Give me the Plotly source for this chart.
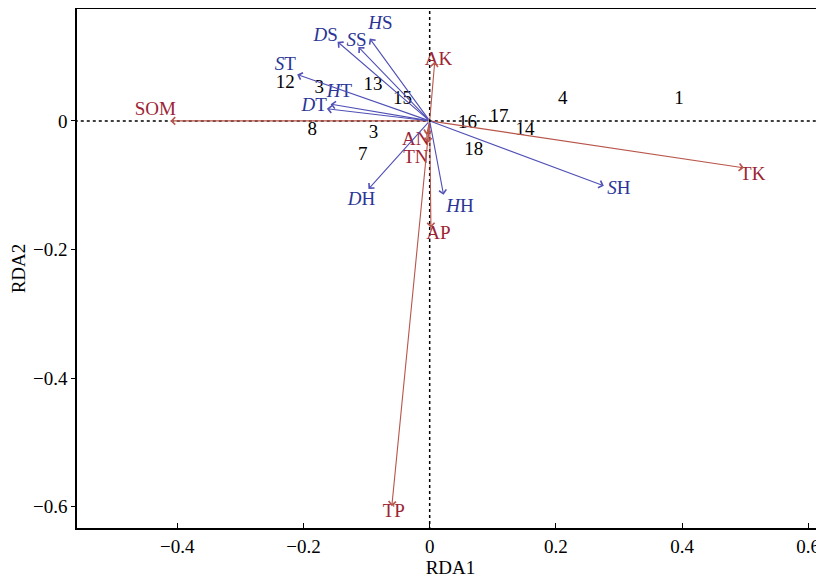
import plotly.graph_objects as go

# ---- data ----
# plant (blue) vectors
plant_names = ["<i>H</i>S", "<i>S</i>S", "<i>D</i>S", "<i>S</i>T", "<i>H</i>T", "<i>D</i>T", "<i>D</i>H", "<i>H</i>H", "<i>S</i>H"]
plant_rda1 = [-0.095, -0.113, -0.146, -0.210, -0.157, -0.163, -0.097, 0.022, 0.276]
plant_rda2 = [0.128, 0.115, 0.123, 0.072, 0.026, 0.019, -0.106, -0.115, -0.101]
plant_lab1 = [-0.078, -0.116, -0.165, -0.229, -0.143, -0.183, -0.108, 0.048, 0.300]
plant_lab2 = [0.151, 0.124, 0.131, 0.087, 0.045, 0.023, -0.123, -0.134, -0.107]

# soil (red) vectors
soil_names = ["SOM", "AK", "TK", "AP", "TP", "AN", "TN"]
soil_rda1 = [-0.411, 0.008, 0.498, 0.002, -0.060, -0.005, -0.003]
soil_rda2 = [0.000, 0.092, -0.073, -0.166, -0.599, -0.022, -0.034]
soil_lab1 = [-0.435, 0.014, 0.512, 0.014, -0.057, -0.022, -0.022]
soil_lab2 = [0.017, 0.095, -0.084, -0.177, -0.608, -0.030, -0.058]

# sample sites
site_names = ["12", "3", "13", "15", "8", "3", "7", "16", "17", "14", "18", "4", "1"]
site_rda1 = [-0.229, -0.175, -0.090, -0.043, -0.186, -0.089, -0.106, 0.060, 0.110, 0.151, 0.070, 0.211, 0.395]
site_rda2 = [0.059, 0.051, 0.056, 0.033, -0.014, -0.019, -0.053, -0.003, 0.006, -0.014, -0.045, 0.034, 0.034]

x_ticks = [-0.4, -0.2, 0, 0.2, 0.4, 0.6]
y_ticks = [-0.6, -0.4, -0.2, 0]

FONT = "Liberation Serif, Times New Roman, serif"
FS = 19
BLUE_LINE = "#5050b6"
BLUE_TEXT = "#2a3596"
RED_LINE = "#b8564c"
RED_TEXT = "#9c2434"

fig = go.Figure()

# dotted zero lines
fig.add_trace(go.Scatter(x=[-1, 1], y=[0, 0], mode="lines",
                         line=dict(color="black", width=1.5, dash="dot"),
                         hoverinfo="skip", showlegend=False))
fig.add_trace(go.Scatter(x=[0, 0], y=[-1, 1], mode="lines",
                         line=dict(color="black", width=1.5, dash="dot"),
                         hoverinfo="skip", showlegend=False))

annotations = []
for xs, ys, col in [(soil_rda1, soil_rda2, RED_LINE), (plant_rda1, plant_rda2, BLUE_LINE)]:
    for x, y in zip(xs, ys):
        annotations.append(dict(x=x, y=y, ax=0, ay=0, xref="x", yref="y",
                                axref="x", ayref="y", showarrow=True,
                                arrowhead=4, arrowsize=1.3, arrowwidth=1.1,
                                arrowcolor=col, text=""))

fig.add_trace(go.Scatter(x=site_rda1, y=site_rda2, mode="text", text=site_names,
                         textfont=dict(family=FONT, size=FS, color="black"),
                         hoverinfo="skip", showlegend=False))
fig.add_trace(go.Scatter(x=plant_lab1, y=plant_lab2, mode="text", text=plant_names,
                         textfont=dict(family=FONT, size=FS, color=BLUE_TEXT),
                         hoverinfo="skip", showlegend=False))
fig.add_trace(go.Scatter(x=soil_lab1, y=soil_lab2, mode="text", text=soil_names,
                         textfont=dict(family=FONT, size=FS, color=RED_TEXT),
                         hoverinfo="skip", showlegend=False))

# page body has an 8px margin, so the figure is sized/offset to compensate
fig.update_layout(
    width=816, height=573,
    margin=dict(l=69, r=0, t=1, b=53),
    plot_bgcolor="white", paper_bgcolor="white",
    font=dict(family=FONT, size=FS, color="black"),
    annotations=annotations,
    showlegend=False,
)
fig.update_xaxes(range=[-0.559, 0.625], tickvals=x_ticks,
                 ticktext=[("\u2212" if v < 0 else "") + (f"{abs(v):g}") for v in x_ticks],
                 showgrid=False, zeroline=False, showline=True, linecolor="black",
                 linewidth=1.5, mirror=True, ticks="inside", ticklen=5, tickcolor="black",
                 title=dict(text="RDA1", standoff=4, font=dict(size=FS)),
                 tickfont=dict(size=FS), automargin=False)
fig.update_yaxes(range=[-0.633, 0.174], tickvals=y_ticks,
                 ticktext=[("\u2212" if v < 0 else "") + (f"{abs(v):g}") for v in y_ticks],
                 showgrid=False, zeroline=False, showline=True, linecolor="black",
                 linewidth=1.5, mirror=True, ticks="outside", ticklen=4, tickcolor="black",
                 title=dict(text="RDA2", standoff=6, font=dict(size=FS)),
                 tickfont=dict(size=FS), automargin=False)

fig.write_html("out.html")
